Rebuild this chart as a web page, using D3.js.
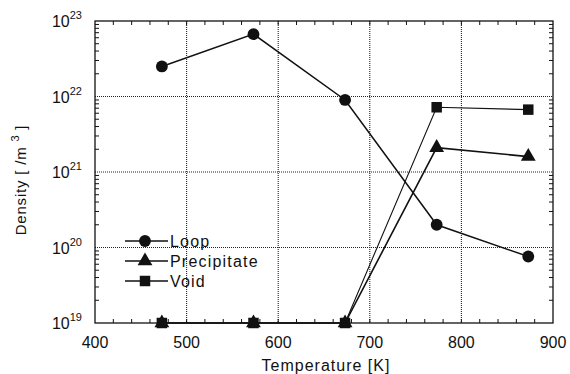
<!DOCTYPE html>
<html>
<head>
<meta charset="utf-8">
<script src="https://cdn.jsdelivr.net/npm/d3@7"></script>
<style>
  body { margin: 0; background: #fff; }
  text { font-family: "Liberation Sans", Arial, sans-serif; fill: #111; }
</style>
</head>
<body>
<div id="chart"></div>
<script>
const temps = [473, 573, 673, 773, 873];
const loop = [2.5e22, 6.7e22, 9e21, 2e20, 7.6e19];
const precipitate = [1e19, 1e19, 1e19, 2.1e21, 1.6e21];
const voids = [1e19, 1e19, 1e19, 7.2e21, 6.7e21];
const xTicks = [400, 500, 600, 700, 800, 900];
const yExps = [19, 20, 21, 22, 23];
const legendNames = ['Loop', 'Precipitate', 'Void'];

const width = 570, height = 374;
const margin = { left: 95, right: 17, top: 21, bottom: 51 };
const pw = width - margin.left - margin.right;
const ph = height - margin.top - margin.bottom;

const svg = d3.select('#chart').append('svg')
    .attr('width', width)
    .attr('height', height);

const g = svg.append('g')
    .attr('transform', `translate(${margin.left},${margin.top})`);

const x = d3.scaleLinear().domain([400, 900]).range([0, pw]);
const y = d3.scaleLog().domain([1e19, 1e23]).range([ph, 0]);

// dotted grid
g.selectAll('.vgrid')
    .data(xTicks.slice(1, -1))
    .enter().append('line')
    .attr('x1', d => x(d)).attr('x2', d => x(d))
    .attr('y1', 0).attr('y2', ph)
    .attr('stroke', '#222').attr('stroke-width', 1.1)
    .attr('stroke-dasharray', '1,1');

g.selectAll('.hgrid')
    .data(yExps.slice(1, -1))
    .enter().append('line')
    .attr('x1', 0).attr('x2', pw)
    .attr('y1', d => y(Math.pow(10, d))).attr('y2', d => y(Math.pow(10, d)))
    .attr('stroke', '#222').attr('stroke-width', 1.1)
    .attr('stroke-dasharray', '1,1');

// minor ticks inside on all sides
const xMinor = d3.range(420, 900, 20);
const yMinor = [];
for (let e = 19; e < 23; e++) for (let m = 2; m <= 9; m++) yMinor.push(m * Math.pow(10, e));

g.append('g').selectAll('line').data(xMinor).enter().append('line')
    .attr('x1', d => x(d)).attr('x2', d => x(d))
    .attr('y1', ph).attr('y2', ph - 4)
    .attr('stroke', '#111');
g.append('g').selectAll('line').data(xMinor).enter().append('line')
    .attr('x1', d => x(d)).attr('x2', d => x(d))
    .attr('y1', 0).attr('y2', 4)
    .attr('stroke', '#111');
g.append('g').selectAll('line').data(yMinor).enter().append('line')
    .attr('x1', 0).attr('x2', 4)
    .attr('y1', d => y(d)).attr('y2', d => y(d))
    .attr('stroke', '#111');
g.append('g').selectAll('line').data(yMinor).enter().append('line')
    .attr('x1', pw).attr('x2', pw - 4)
    .attr('y1', d => y(d)).attr('y2', d => y(d))
    .attr('stroke', '#111');

// frame
g.append('rect')
    .attr('width', pw).attr('height', ph)
    .attr('fill', 'none').attr('stroke', '#111').attr('stroke-width', 1.3);

// x tick labels
g.selectAll('.xlab').data(xTicks).enter().append('text')
    .attr('x', d => x(d)).attr('y', ph + 25)
    .attr('text-anchor', 'middle')
    .style('font-size', '16px')
    .text(d => d);

// y tick labels 10^n
const yl = g.selectAll('.ylab').data(yExps).enter().append('text')
    .attr('x', -13).attr('y', d => y(Math.pow(10, d)) + 6)
    .attr('text-anchor', 'end')
    .style('font-size', '16px');
yl.append('tspan').text('10');
yl.append('tspan').attr('dy', -8).style('font-size', '11px').text(d => d);

// axis titles
svg.append('text')
    .attr('x', margin.left + pw / 2 + 2).attr('y', 371)
    .attr('text-anchor', 'middle')
    .style('font-size', '16px')
    .style('letter-spacing', '1px')
    .text('Temperature  [K]');

const yt = svg.append('text')
    .attr('transform', 'translate(26,180) rotate(-90)')
    .attr('text-anchor', 'middle')
    .style('font-size', '15px')
    .style('letter-spacing', '0.8px');
yt.append('tspan').text('Density [ /m ');
yt.append('tspan').attr('dy', -7).style('font-size', '11px').text('3');
yt.append('tspan').attr('dy', 7).text(' ]');

const line = d3.line().x(d => x(d[0])).y(d => y(d[1]));
const series = [
    { vals: loop, sym: d3.symbolCircle, size: 110, w: 1.5 },
    { vals: precipitate, sym: d3.symbolTriangle, size: 95, w: 1.6 },
    { vals: voids, sym: d3.symbolSquare, size: 110, w: 1.1 }
];

series.forEach(s => {
    const pts = temps.map((t, i) => [t, s.vals[i]]);
    g.append('path').datum(pts)
        .attr('d', line)
        .attr('fill', 'none').attr('stroke', '#111').attr('stroke-width', s.w);
    g.selectAll(null).data(pts).enter().append('path')
        .attr('transform', d => `translate(${x(d[0])},${y(d[1])})`)
        .attr('d', d3.symbol().type(s.sym).size(s.size))
        .attr('fill', '#111');
});

// legend
const lg = g.append('g').attr('transform', 'translate(30,220)');
legendNames.forEach((name, i) => {
    const row = lg.append('g').attr('transform', `translate(0,${i * 20})`);
    row.append('line').attr('x1', 0).attr('x2', 43)
        .attr('stroke', '#111').attr('stroke-width', 1.4);
    row.append('path').attr('transform', 'translate(20,0)')
        .attr('d', d3.symbol().type(series[i].sym).size(series[i].size))
        .attr('fill', '#111');
    row.append('text').attr('x', 45).attr('y', 6)
        .style('font-size', '16px')
        .style('letter-spacing', '1.2px')
        .text(name);
});
</script>
</body>
</html>
